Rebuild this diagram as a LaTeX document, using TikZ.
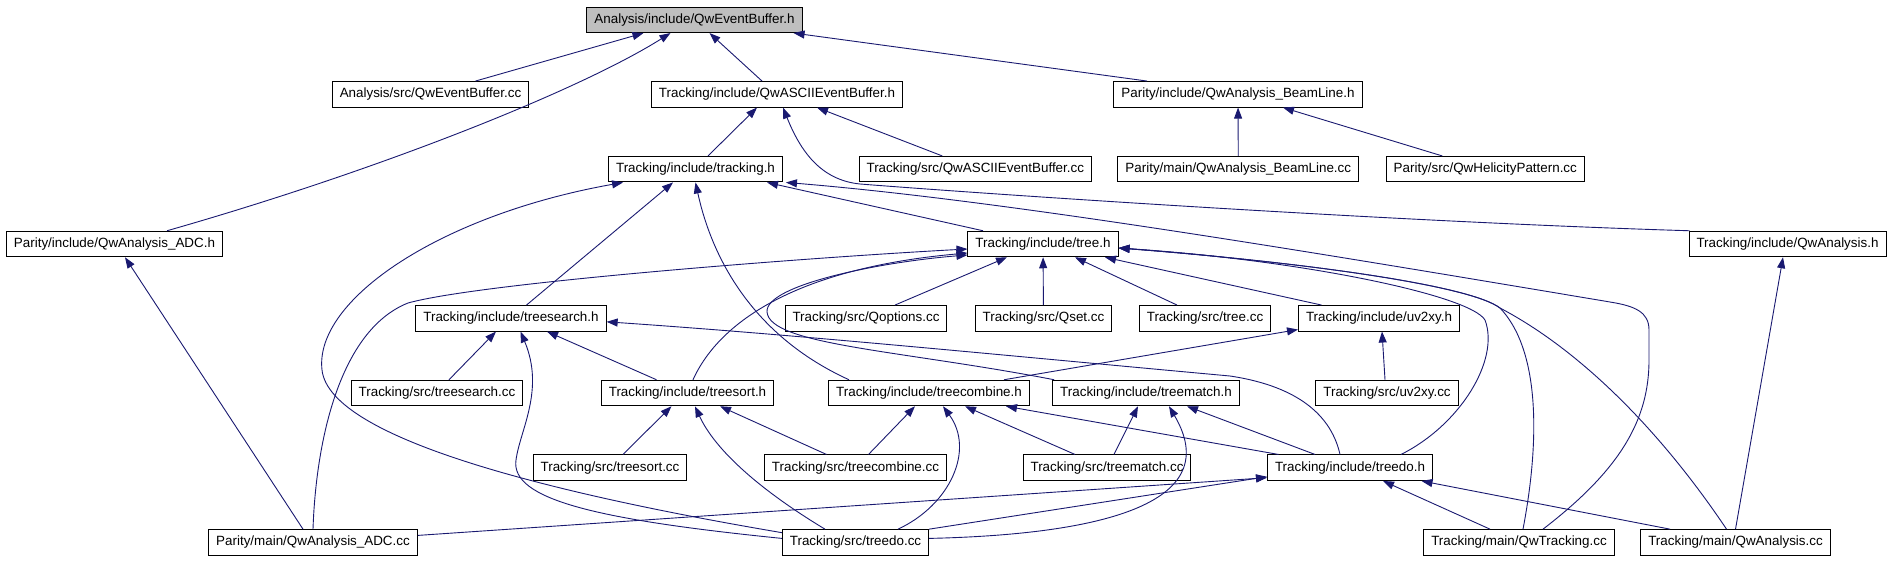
\documentclass[tikz,border=0pt]{standalone}
\usepackage{fontspec}
\setmainfont{Liberation Sans}
\usepackage{tikz}
\usetikzlibrary{arrows.meta}
\definecolor{navy}{RGB}{25,25,112}
\definecolor{curgray}{RGB}{191,191,191}

\begin{document}
\begin{tikzpicture}[
      x=1pt, y=-1pt,
      box/.style={draw=black,line width=1pt,fill=white,minimum height=25.5pt,
                  inner xsep=7.5pt,inner ysep=0pt,
                  font=\fontsize{13.4}{16}\selectfont},
      cur/.style={box,fill=curgray},
      arr/.style={-{Triangle[length=11pt,width=8pt]},draw=navy,line width=0.9pt},
    ]
    \useasboundingbox (0,0) rectangle (1892,560);

    % ── Row 1 : the file itself ────────────────────────────────────────────
    \node[cur] (root)    at (694.5,19.8)  {Analysis/include/QwEventBuffer.h};

    % ── Row 2 ──────────────────────────────────────────────────────────────
    \node[box] (aecc)    at (430.5,94.3)  {Analysis/src/QwEventBuffer.cc};
    \node[box] (asciih)  at (777,94.3)    {Tracking/include/QwASCIIEventBuffer.h};
    \node[box] (beamh)   at (1238,94.3)   {Parity/include/QwAnalysis\_BeamLine.h};

    % ── Row 3 ──────────────────────────────────────────────────────────────
    \node[box] (trackh)  at (695.5,169.2) {Tracking/include/tracking.h};
    \node[box] (asciicc) at (975.3,169.2) {Tracking/src/QwASCIIEventBuffer.cc};
    \node[box] (beamcc)  at (1238.3,169.2){Parity/main/QwAnalysis\_BeamLine.cc};
    \node[box] (helcc)   at (1485.3,169.2){Parity/src/QwHelicityPattern.cc};

    % ── Row 4 ──────────────────────────────────────────────────────────────
    \node[box] (adch)    at (114.5,244)   {Parity/include/QwAnalysis\_ADC.h};
    \node[box] (treeh)   at (1043,244)    {Tracking/include/tree.h};
    \node[box] (anah)    at (1787.5,244)  {Tracking/include/QwAnalysis.h};

    % ── Row 5 ──────────────────────────────────────────────────────────────
    \node[box] (searchh) at (511,318.3)   {Tracking/include/treesearch.h};
    \node[box] (qopt)    at (866,318.3)   {Tracking/src/Qoptions.cc};
    \node[box] (qset)    at (1043.5,318.3){Tracking/src/Qset.cc};
    \node[box] (treecc)  at (1205,318.3)  {Tracking/src/tree.cc};
    \node[box] (uvh)     at (1379,318.3)  {Tracking/include/uv2xy.h};

    % ── Row 6 ──────────────────────────────────────────────────────────────
    \node[box] (searchcc) at (437,393)    {Tracking/src/treesearch.cc};
    \node[box] (sorth)   at (687.5,393)   {Tracking/include/treesort.h};
    \node[box] (combh)   at (929,393)     {Tracking/include/treecombine.h};
    \node[box] (matchh)  at (1146,393)    {Tracking/include/treematch.h};
    \node[box] (uvcc)    at (1387,393)    {Tracking/src/uv2xy.cc};

    % ── Row 7 ──────────────────────────────────────────────────────────────
    \node[box] (sortcc)  at (610,467.7)   {Tracking/src/treesort.cc};
    \node[box] (combcc)  at (855.5,467.7) {Tracking/src/treecombine.cc};
    \node[box] (matchcc) at (1107,467.7)  {Tracking/src/treematch.cc};
    \node[box] (doh)     at (1350,467.7)  {Tracking/include/treedo.h};

    % ── Row 8 ──────────────────────────────────────────────────────────────
    \node[box] (adccc)   at (313,542.4)   {Parity/main/QwAnalysis\_ADC.cc};
    \node[box] (docc)    at (855.5,542.4) {Tracking/src/treedo.cc};
    \node[box] (trackcc) at (1519,542.4)  {Tracking/main/QwTracking.cc};
    \node[box] (anacc)   at (1735.5,542.4){Tracking/main/QwAnalysis.cc};

    % ── Into QwEventBuffer.h ───────────────────────────────────────────────
    \draw[arr] ([xshift=45pt]aecc.north) -- ([xshift=-51pt]root.south);
    \draw[arr] ([xshift=52.5pt]adch.north) .. controls (380,170) and (580,90) .. ([xshift=-24pt]root.south);
    \draw[arr] ([xshift=-15pt]asciih.north) -- ([xshift=15pt]root.south);
    \draw[arr] ([xshift=-91pt]beamh.north) -- ([xshift=-9pt]root.south east);

    % ── Into QwASCIIEventBuffer.h ──────────────────────────────────────────
    \draw[arr] ([xshift=12.5pt]trackh.north) -- ([xshift=-20pt]asciih.south);
    \draw[arr] ([xshift=-33pt]asciicc.north) -- ([xshift=40pt]asciih.south);
    \draw[arr] ([xshift=1pt]anah.north west) .. controls (1400,222) and (1000,195) .. (860,184)
               .. controls (820,180) and (800,150) .. ([xshift=6pt]asciih.south);

    % ── Into QwAnalysis_BeamLine.h ─────────────────────────────────────────
    \draw[arr] (beamcc) -- (beamh);
    \draw[arr] ([xshift=-43pt]helcc.north) -- ([xshift=45pt]beamh.south);

    % ── Into QwAnalysis_ADC.h ──────────────────────────────────────────────
    \draw[arr] ([xshift=-10pt]adccc.north) -- ([xshift=10.5pt]adch.south);

    % ── Into tracking.h ────────────────────────────────────────────────────
    \draw[arr] ([xshift=-60pt]treeh.north) -- ([xshift=71.5pt]trackh.south);
    \draw[arr] ([xshift=15.5pt]searchh.north) -- ([xshift=-22.5pt]trackh.south);
    \draw[arr] ([xshift=-80pt]combh.north) .. controls (740,330) and (708,240) .. (trackh.south);
    \draw[arr] ([yshift=-3.5pt]docc.north west) .. controls (560,495) and (330,440) .. (322,370)
               .. controls (314,300) and (440,215) .. ([xshift=15pt]trackh.south west);
    \draw[arr] ([xshift=24pt]trackcc.north) .. controls (1620,470) and (1649,420) .. (1649,360)
               -- (1649,330) .. controls (1649,312) and (1635,306) .. (1610,302)
               .. controls (1300,250) and (1000,200) .. ([xshift=3pt]trackh.south east);

    % ── Into tree.h ────────────────────────────────────────────────────────
    \draw[arr] (adccc.north) .. controls (316,440) and (340,330) .. (408,303)
               .. controls (480,283) and (800,258) .. ([yshift=-5pt]treeh.west);
    \draw[arr] ([xshift=5.5pt]sorth.north) .. controls (720,320) and (800,268) .. ([yshift=-9pt]treeh.west);
    \draw[arr] ([xshift=2pt]matchh.north west) .. controls (900,350) and (770,345) .. (767,312)
               .. controls (765,285) and (880,262) .. ([yshift=-11pt]treeh.west);
    \draw[arr] ([xshift=29pt]qopt.north) -- ([xshift=-36pt]treeh.south);
    \draw[arr] (qset) -- (treeh);
    \draw[arr] ([xshift=-28pt]treecc.north) -- ([xshift=32pt]treeh.south);
    \draw[arr] ([xshift=-57.5pt]uvh.north) -- ([xshift=62pt]treeh.south);
    \draw[arr] ([xshift=51pt]doh.north) .. controls (1460,425) and (1500,360) .. (1485,320)
               .. controls (1470,295) and (1300,260) .. ([yshift=-4pt]treeh.east);
    \draw[arr] ([xshift=4pt]trackcc.north) .. controls (1540,440) and (1540,350) .. (1500,308)
               .. controls (1470,285) and (1300,262) .. ([yshift=-4pt]treeh.east);
    \draw[arr] ([xshift=-9pt]anacc.north) .. controls (1660,430) and (1580,350) .. (1500,308)
               .. controls (1470,285) and (1300,262) .. ([yshift=-4pt]treeh.east);

    % ── Into QwAnalysis.h ──────────────────────────────────────────────────
    \draw[arr] (anacc.north) -- ([xshift=-4.5pt]anah.south);

    % ── Into treesearch.h ──────────────────────────────────────────────────
    \draw[arr] ([xshift=12pt]searchcc.north) -- ([xshift=-15pt]searchh.south);
    \draw[arr] ([xshift=-31pt]sorth.north) -- ([xshift=36pt]searchh.south);
    \draw[arr] ([yshift=4pt]docc.west) .. controls (600,520) and (510,500) .. (516,460)
               .. controls (520,430) and (545,390) .. ([xshift=9.5pt]searchh.south);
    \draw[arr] ([xshift=-10pt]doh.north) .. controls (1330,410) and (1290,385) .. (1230,376)
               .. controls (1000,355) and (800,335) .. ([yshift=-3.5pt]searchh.east);

    % ── Into uv2xy.h ───────────────────────────────────────────────────────
    \draw[arr] ([xshift=75pt]combh.north) -- ([yshift=2pt]uvh.south west);
    \draw[arr] ([xshift=-2pt]uvcc.north) -- ([xshift=3pt]uvh.south);

    % ── Into treesort.h ────────────────────────────────────────────────────
    \draw[arr] ([xshift=13pt]sortcc.north) -- ([xshift=-16pt]sorth.south);
    \draw[arr] ([xshift=-29pt]combcc.north) -- ([xshift=32.5pt]sorth.south);
    \draw[arr] ([xshift=-30.5pt]docc.north) .. controls (760,490) and (715,450) .. ([xshift=7.5pt]sorth.south);

    % ── Into treecombine.h ─────────────────────────────────────────────────
    \draw[arr] ([xshift=13pt]combcc.north) -- ([xshift=-14pt]combh.south);
    \draw[arr] ([xshift=42.5pt]docc.north) .. controls (950,505) and (975,450) .. ([xshift=14pt]combh.south);
    \draw[arr] ([xshift=-32pt]matchcc.north) -- ([xshift=36pt]combh.south);
    \draw[arr] ([xshift=-71.5pt]doh.north) -- ([xshift=77pt]combh.south);

    % ── Into treematch.h ───────────────────────────────────────────────────
    \draw[arr] ([xshift=7pt]matchcc.north) -- ([xshift=-8pt]matchh.south);
    \draw[arr] ([yshift=4pt]docc.east) .. controls (1080,535) and (1230,510) .. ([xshift=23pt]matchh.south);
    \draw[arr] ([xshift=-35pt]doh.north) -- ([xshift=41pt]matchh.south);

    % ── Into treedo.h ──────────────────────────────────────────────────────
    \draw[arr] (docc.north east) -- ([yshift=-9pt]doh.west);
    \draw[arr] ([yshift=7pt]adccc.east) -- ([yshift=-10pt]doh.west);
    \draw[arr] ([xshift=-29pt]trackcc.north) -- ([xshift=33pt]doh.south);
    \draw[arr] ([xshift=-65.5pt]anacc.north) -- ([xshift=71.5pt]doh.south);

  \end{tikzpicture}
\end{document}
